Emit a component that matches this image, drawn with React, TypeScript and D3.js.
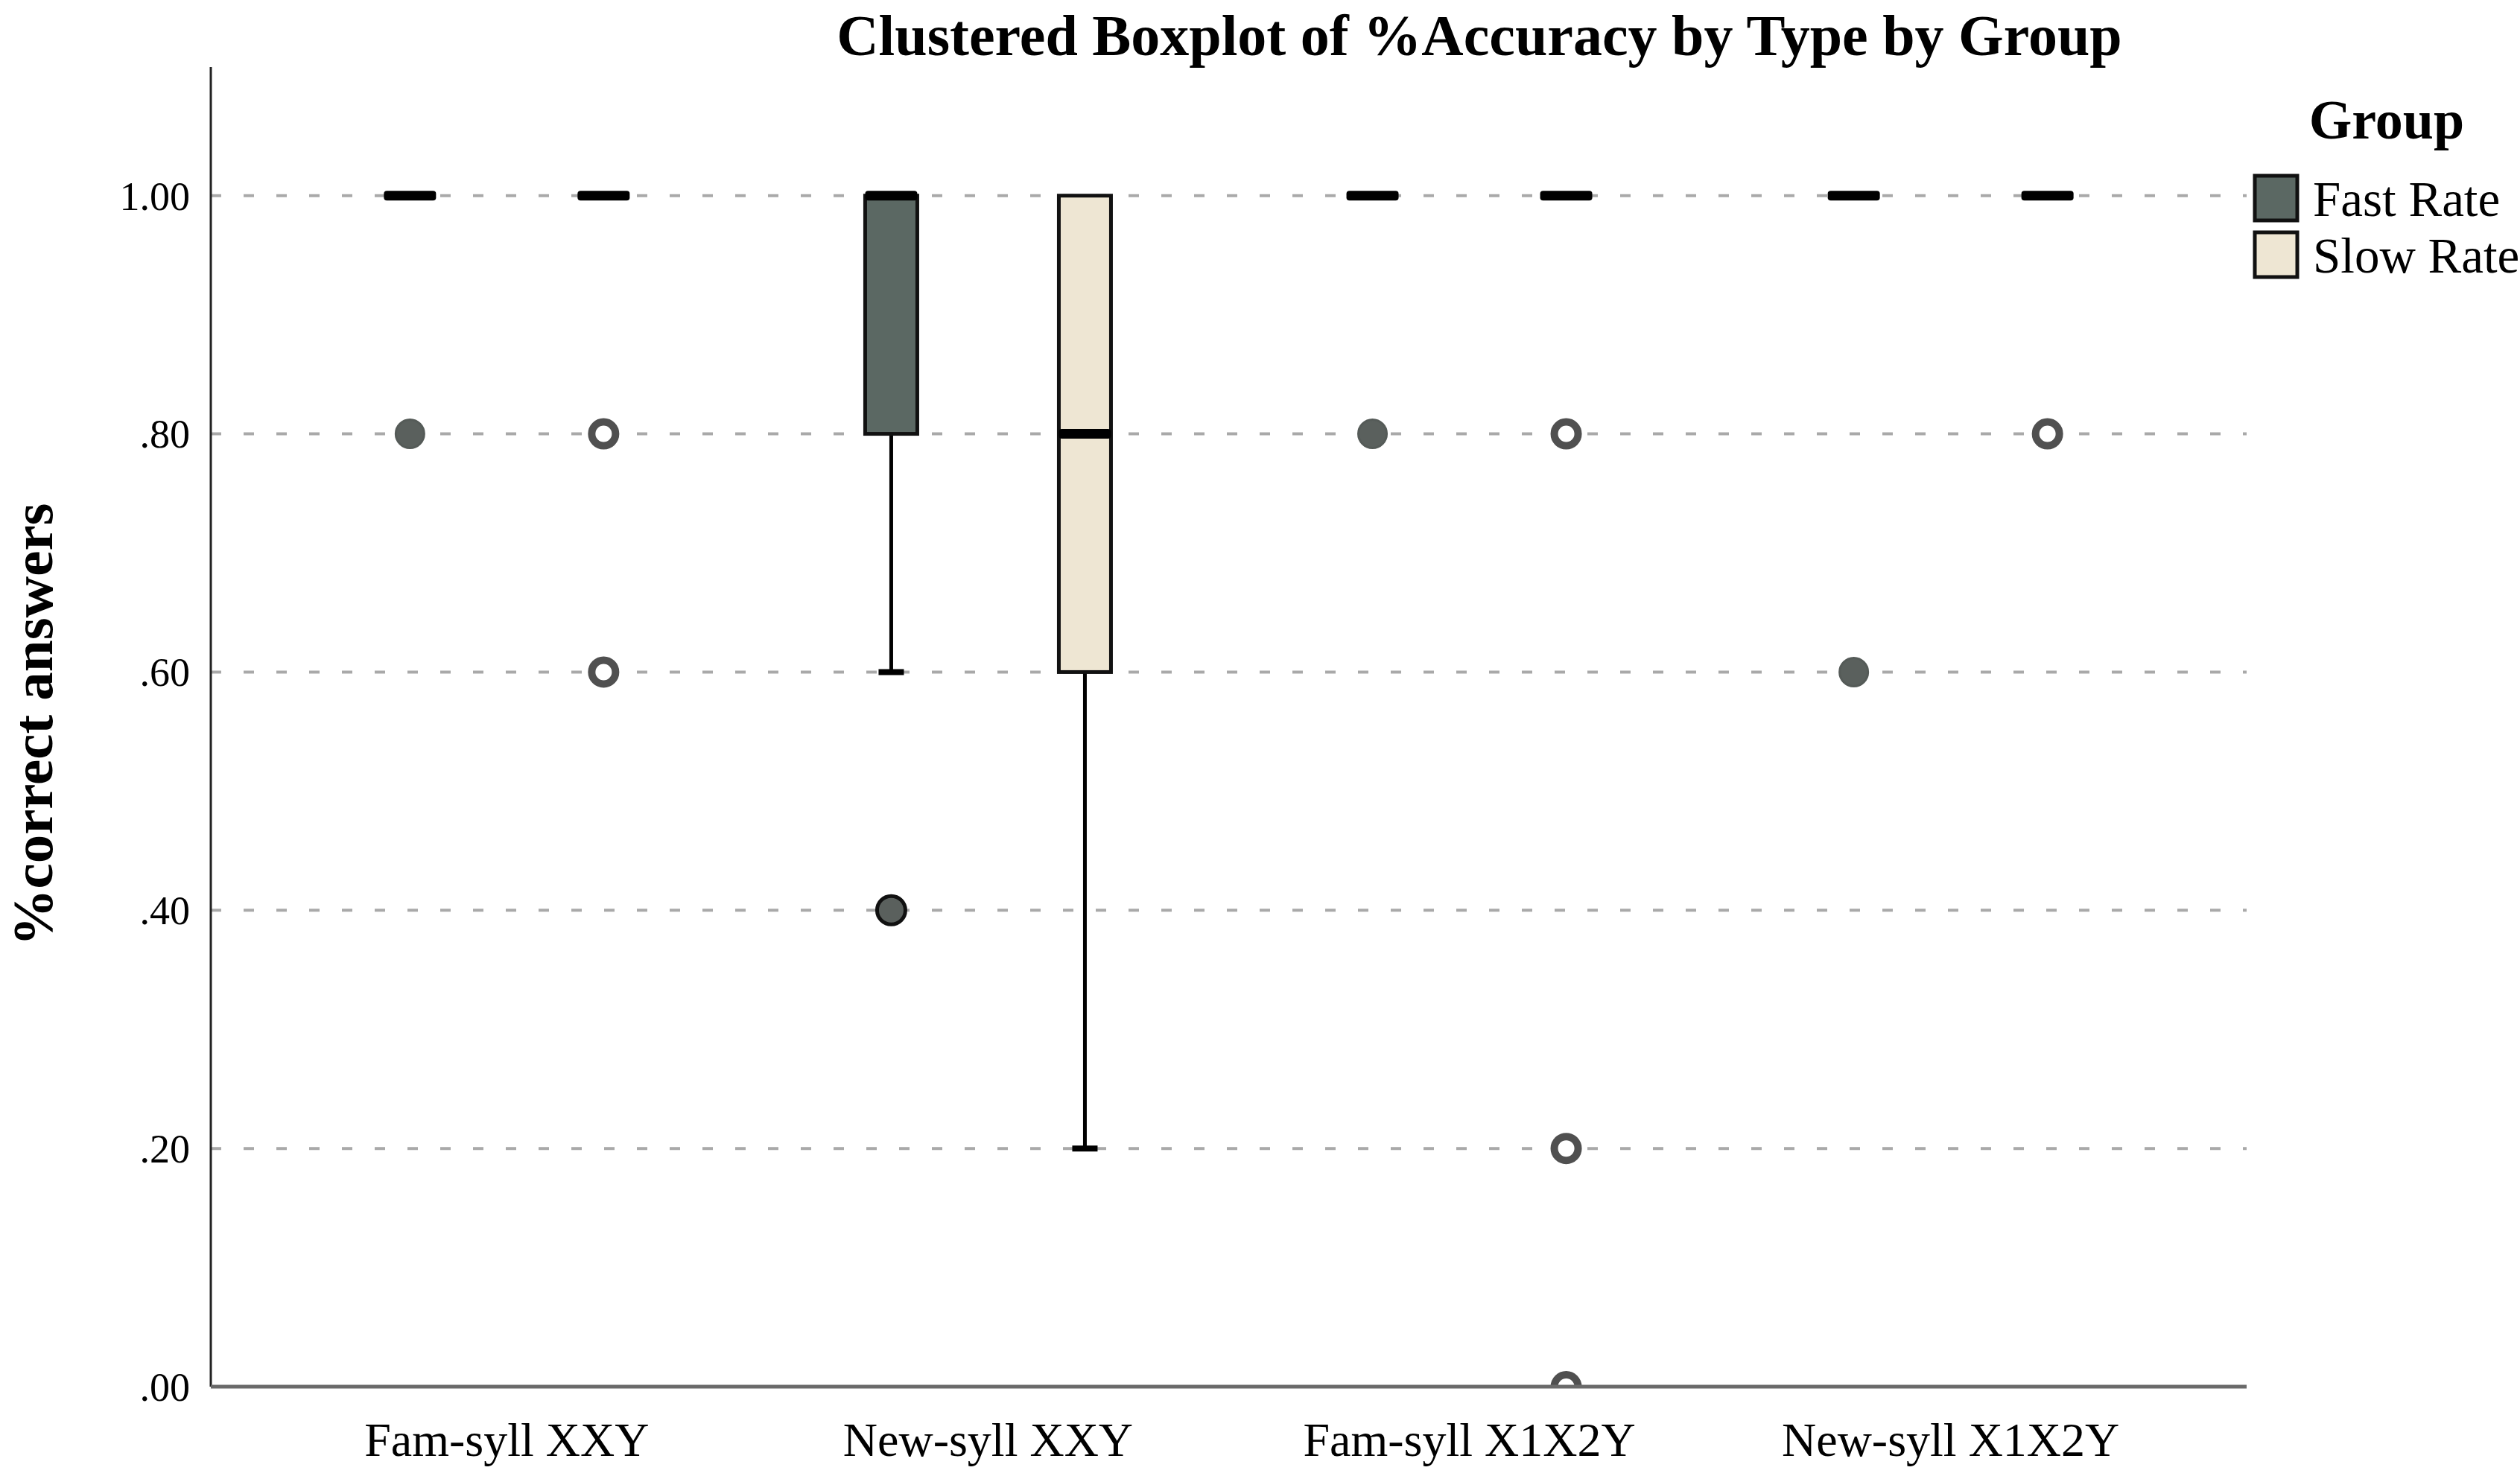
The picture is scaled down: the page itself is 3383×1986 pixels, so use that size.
import React from 'react';
import * as d3 from 'd3';

const categories = ['Fam-syll XXY', 'New-syll XXY', 'Fam-syll X1X2Y', 'New-syll X1X2Y'];
const groups = ['Fast Rate', 'Slow Rate'];
const yTickValues = [0, 0.2, 0.4, 0.6, 0.8, 1.0];
const yTickLabels = ['.00', '.20', '.40', '.60', '.80', '1.00'];

// Fast Rate boxes, one value per category
const fastQ1 = [1.0, 0.8, 1.0, 1.0];
const fastMedian = [1.0, 1.0, 1.0, 1.0];
const fastQ3 = [1.0, 1.0, 1.0, 1.0];
const fastWhiskerLow = [1.0, 0.6, 1.0, 1.0];
const fastWhiskerHigh = [1.0, 1.0, 1.0, 1.0];
const fastOutliers = [[0.8], [0.4], [0.8], [0.6]];
const fastOutlierOutlined = [[false], [true], [false], [false]];

// Slow Rate boxes
const slowQ1 = [1.0, 0.6, 1.0, 1.0];
const slowMedian = [1.0, 0.8, 1.0, 1.0];
const slowQ3 = [1.0, 1.0, 1.0, 1.0];
const slowWhiskerLow = [1.0, 0.2, 1.0, 1.0];
const slowWhiskerHigh = [1.0, 1.0, 1.0, 1.0];
const slowOutliers = [[0.8, 0.6], [], [0.8, 0.2, 0.0], [0.8]];

const W = 3383;
const H = 1986;
const left = 283;
const right = 3016;
const bottom = 1862;
const top = 90;

const FAST_FILL = '#5b6863';
const SLOW_FILL = '#eee6d3';
const FONT = '"Liberation Serif", "Times New Roman", serif';

export default function App() {
  React.useEffect(() => {
    document.body.style.margin = '0';
  }, []);

  const x = d3.scalePoint<string>().domain(categories).range([left, right]).padding(0.615);
  const xg = d3.scaleBand<string>().domain(groups).range([-260, 260]).padding(0);
  const y = d3.scaleLinear().domain([0, 1.108]).range([bottom, top]);

  const boxW = 70;
  const capW = 34;

  const series = [
    { name: groups[0], fill: FAST_FILL, q1: fastQ1, med: fastMedian, q3: fastQ3, wlo: fastWhiskerLow, whi: fastWhiskerHigh, out: fastOutliers },
    { name: groups[1], fill: SLOW_FILL, q1: slowQ1, med: slowMedian, q3: slowQ3, wlo: slowWhiskerLow, whi: slowWhiskerHigh, out: slowOutliers },
  ];

  return (
    <svg width={W} height={H} style={{ display: 'block', position: 'absolute', left: 0, top: 0, background: '#fff' }} fontFamily={FONT}>
      <defs>
        <clipPath id="plotClip">
          <rect x={left} y={0} width={right - left} height={bottom} />
        </clipPath>
      </defs>
      <rect x={0} y={0} width={W} height={H} fill="#fff" />

      {/* title */}
      <text x={1986} y={74} textAnchor="middle" fontSize={78} fontWeight="bold" fill="#000">
        Clustered Boxplot of %Accuracy by Type by Group
      </text>

      {/* gridlines */}
      {yTickValues.map((v) => (
        <line key={'g' + v} x1={left} x2={right} y1={y(v)} y2={y(v)} stroke="#a9a9a9" strokeWidth={4} strokeDasharray="14 30" />
      ))}

      {/* boxes */}
      <g clipPath="url(#plotClip)">
        {series.map((s, si) =>
          categories.map((c, i) => {
            const cx = (x(c) as number) + (xg(s.name) as number) + xg.bandwidth() / 2;
            const yq1 = y(s.q1[i]);
            const yq3 = y(s.q3[i]);
            const ym = y(s.med[i]);
            return (
              <g key={s.name + c}>
                {s.q1[i] !== s.wlo[i] && (
                  <g>
                    <line x1={cx} x2={cx} y1={yq1} y2={y(s.wlo[i])} stroke="#000" strokeWidth={5} />
                    <line x1={cx - capW / 2} x2={cx + capW / 2} y1={y(s.wlo[i])} y2={y(s.wlo[i])} stroke="#000" strokeWidth={8} />
                  </g>
                )}
                {s.q3[i] !== s.whi[i] && (
                  <g>
                    <line x1={cx} x2={cx} y1={yq3} y2={y(s.whi[i])} stroke="#000" strokeWidth={5} />
                    <line x1={cx - capW / 2} x2={cx + capW / 2} y1={y(s.whi[i])} y2={y(s.whi[i])} stroke="#000" strokeWidth={8} />
                  </g>
                )}
                {s.q1[i] !== s.q3[i] && (
                  <rect x={cx - boxW / 2} y={yq3} width={boxW} height={yq1 - yq3} fill={s.fill} stroke="#111" strokeWidth={5} />
                )}
                <rect x={cx - boxW / 2} y={ym - 6.5} width={boxW} height={13} rx={4} fill="#000" />
                {s.out[i].map((v, k) =>
                  si === 0 ? (
                    <circle key={k} cx={cx} cy={y(v)} r={19} fill="#5a605d" stroke={fastOutlierOutlined[i][k] ? '#111' : '#555b58'} strokeWidth={fastOutlierOutlined[i][k] ? 5 : 3} />
                  ) : (
                    <circle key={k} cx={cx} cy={y(v)} r={16} fill="#fff" stroke="#505050" strokeWidth={10} />
                  )
                )}
              </g>
            );
          })
        )}
      </g>

      {/* axes */}
      <line x1={left} x2={left} y1={top} y2={bottom} stroke="#222" strokeWidth={3} />
      <line x1={left} x2={right} y1={bottom} y2={bottom} stroke="#6a6a6a" strokeWidth={5} />

      {/* y tick labels */}
      {yTickValues.map((v, i) => (
        <text key={'t' + v} x={255} y={y(v)} dy="0.35em" textAnchor="end" fontSize={54} fill="#000">
          {yTickLabels[i]}
        </text>
      ))}

      {/* x labels */}
      {categories.map((c) => (
        <text key={c} x={x(c) as number} y={1955} textAnchor="middle" fontSize={64} fill="#000">
          {c}
        </text>
      ))}

      {/* y title */}
      <text transform="translate(70,973) rotate(-90)" textAnchor="middle" fontSize={77} fontWeight="bold" fill="#000">
        %correct answers
      </text>

      {/* legend */}
      <text x={3204} y={186} textAnchor="middle" fontSize={74} fontWeight="bold" fill="#000">Group</text>
      {series.map((s, i) => (
        <g key={'l' + s.name} transform={`translate(3027, ${236 + i * 76})`}>
          <rect x={0} y={0} width={57} height={60} fill={s.fill} stroke="#111" strokeWidth={5} />
          <text x={78} y={54} fontSize={67} fill="#000">{s.name}</text>
        </g>
      ))}
    </svg>
  );
}
